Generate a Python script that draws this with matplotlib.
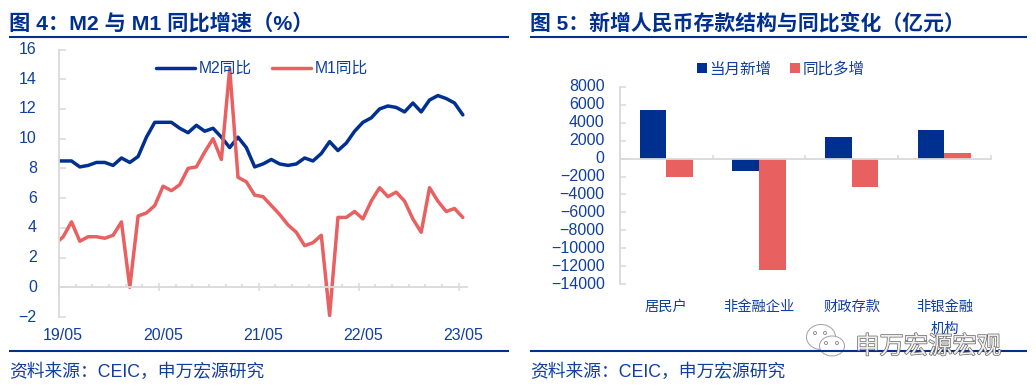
import matplotlib
matplotlib.use('Agg')
import matplotlib.pyplot as plt
import matplotlib.patheffects as pe
from matplotlib.patches import Ellipse
from matplotlib.transforms import ScaledTranslation
import numpy as np

plt.rcParams['font.family'] = ['Liberation Sans', 'Noto Sans CJK SC', 'DejaVu Sans']

W, H = 1036, 389
BLUE = '#00308F'
RED = '#E86060'
TXT = '#0F3FA0'
GREY = '#D9D9D9'

# first value in each series is 19/04, it gets cut off by the axis
m2 = [8.5, 8.5, 8.5, 8.1, 8.2, 8.4, 8.4, 8.2, 8.7, 8.4, 8.8, 10.1, 11.1, 11.1, 11.1, 10.7, 10.4,
      10.9, 10.5, 10.7, 10.1, 9.4, 10.1, 9.4, 8.1, 8.3, 8.6, 8.3, 8.2, 8.3, 8.7, 8.5, 9.0,
      9.8, 9.2, 9.7, 10.5, 11.1, 11.4, 12.0, 12.2, 12.1, 11.8, 12.4, 11.8, 12.6, 12.9, 12.7, 12.4, 11.6]
m1 = [2.9, 3.4, 4.4, 3.1, 3.4, 3.4, 3.3, 3.5, 4.4, 0.0, 4.8, 5.0, 5.5, 6.8, 6.5, 6.9, 8.0,
      8.1, 9.1, 10.0, 8.6, 14.7, 7.4, 7.1, 6.2, 6.1, 5.5, 4.9, 4.2, 3.7, 2.8, 3.0, 3.5,
      -1.9, 4.7, 4.7, 5.1, 4.6, 5.8, 6.7, 6.1, 6.4, 5.8, 4.6, 3.7, 6.7, 5.8, 5.1, 5.3, 4.7]
year_labels = ['19/05', '20/05', '21/05', '22/05', '23/05']

cats = ['居民户', '非金融企业', '财政存款', '非银金融\n机构']
new_dep = [5400, -1350, 2400, 3200]
yoy_dep = [-2000, -12450, -3150, 600]


def axes_px(x0, y0, x1, y1):
    return fig.add_axes([x0 / W, 1 - y1 / H, (x1 - x0) / W, (y1 - y0) / H])


def style(ax):
    for s in ['top', 'right']:
        ax.spines[s].set_visible(False)
    ax.spines['left'].set_color(GREY)
    ax.spines['left'].set_linewidth(1.3)
    ax.spines['bottom'].set_color(GREY)
    ax.spines['bottom'].set_linewidth(1.3)
    ax.spines['bottom'].set_position(('data', 0))
    ax.patch.set_alpha(0)


def lift_ylabels(ax):
    # labels sit a bit higher than the ticks in the original
    up = ScaledTranslation(0, 1.5 / 100, fig.dpi_scale_trans)
    for lab in ax.get_yticklabels():
        lab.set_transform(lab.get_transform() + up)


fig = plt.figure(figsize=(W / 100, H / 100), dpi=100)

# left chart
ax = axes_px(59, 49.5, 467, 317)
style(ax)
x = np.arange(len(m2)) - 1
ax.plot(x, m2, color=BLUE, lw=2.5, solid_capstyle='round', solid_joinstyle='round', label='M2同比')
ax.plot(x, m1, color=RED, lw=2.5, solid_capstyle='round', solid_joinstyle='round', label='M1同比')
ax.set_xlim(-0.5, 48.5)
ax.set_ylim(-2, 16)
ax.set_yticks(range(-2, 17, 2))
ax.set_xticks(np.arange(-0.5, 48, 12))
ax.set_xticks(np.arange(-0.5, 48, 2), minor=True)
ax.set_xticklabels([])
ax.tick_params(axis='y', direction='in', length=5, width=1.1, color=GREY, labelcolor=TXT, labelsize=11.5, pad=16)
ax.tick_params(axis='x', which='major', direction='inout', length=5.5, width=1.1, color=GREY)
ax.tick_params(axis='x', which='minor', direction='in', length=2.5, width=1.1, color=GREY)
lift_ylabels(ax)
for lab, xi in zip(year_labels, range(0, 49, 12)):
    ax.text(xi, -3.27, lab, ha='center', va='center', color=TXT, fontsize=11.5, clip_on=False)
ax.legend(loc='center', bbox_to_anchor=(262 / W, 1 - 68.5 / H), bbox_transform=fig.transFigure, ncol=2,
          frameon=False, fontsize=11.3, labelcolor=TXT, handlelength=2.5, handletextpad=0.25,
          columnspacing=1.25, borderpad=0, borderaxespad=0)

# right chart
ax2 = axes_px(620, 86.7, 990.7, 284.3)
style(ax2)
pos = np.arange(len(cats))
bw = 0.288
ax2.bar(pos - bw / 2, new_dep, bw, color=BLUE, label='当月新增')
ax2.bar(pos + bw / 2, yoy_dep, bw, color=RED, label='同比多增')
ax2.set_xlim(-0.5, 3.5)
ax2.set_ylim(-14000, 8000)
ax2.set_yticks(range(-14000, 8001, 2000))
ax2.set_xticks(np.arange(-0.5, 4, 1))
ax2.set_xticklabels([])
ax2.tick_params(axis='y', direction='in', length=4, width=1.1, color=GREY, labelcolor=TXT, labelsize=11.5, pad=11)
ax2.tick_params(axis='x', direction='in', length=3, width=1.1, color=GREY)
lift_ylabels(ax2)
for i, c in zip(pos, cats):
    ax2.text(i, -15700, c, ha='center', va='top', color=TXT, fontsize=10.3, linespacing=1.75, clip_on=False)
ax2.legend(loc='center', bbox_to_anchor=(781 / W, 1 - 69 / H), bbox_transform=fig.transFigure, ncol=2,
           frameon=False, fontsize=11.2, labelcolor=TXT, handlelength=0.6, handleheight=0.6, handletextpad=0.2,
           columnspacing=1.2, borderpad=0, borderaxespad=0)

# titles, rules, sources and the watermark are placed in pixels
ov = fig.add_axes([0, 0, 1, 1], zorder=5)
ov.set_xlim(0, W)
ov.set_ylim(H, 0)
ov.axis('off')
ov.patch.set_alpha(0)

ov.text(9, 23, '图 4：M2 与 M1 同比增速（%）', color=BLUE, fontsize=15.3, fontweight='bold', va='center')
ov.text(530, 23, '图 5：新增人民币存款结构与同比变化（亿元）', color=BLUE, fontsize=15, fontweight='bold', va='center')
for x0, x1 in [(9, 509), (530, 1027)]:
    ov.plot([x0, x1], [36.7, 36.7], color=BLUE, lw=1.5, solid_capstyle='butt')
    ov.plot([x0, x1], [350.7, 350.7], color=BLUE, lw=1.5, solid_capstyle='butt')
    ov.text(x0, 372.5, '资料来源：CEIC，申万宏源研究', color=TXT, fontsize=12.8, va='center')

# wechat style mark
ov.add_patch(Ellipse((821, 337), 29, 25, fc='white', ec='#A0A0A0', lw=0.7))
ov.add_patch(Ellipse((832, 346), 25, 20, fc='white', ec='#A0A0A0', lw=0.7))
for px, py in [(815, 333), (825, 333), (826, 343), (837, 343)]:
    ov.add_patch(Ellipse((px, py), 3, 3, fc='white', ec='#808080', lw=0.6))
ov.text(928, 347, '申万宏源宏观', color='#EFEFEF', fontsize=17.5, ha='center', va='center',
        path_effects=[pe.withStroke(linewidth=1.0, foreground='#666666')])

fig.savefig('out.png', dpi=100)
